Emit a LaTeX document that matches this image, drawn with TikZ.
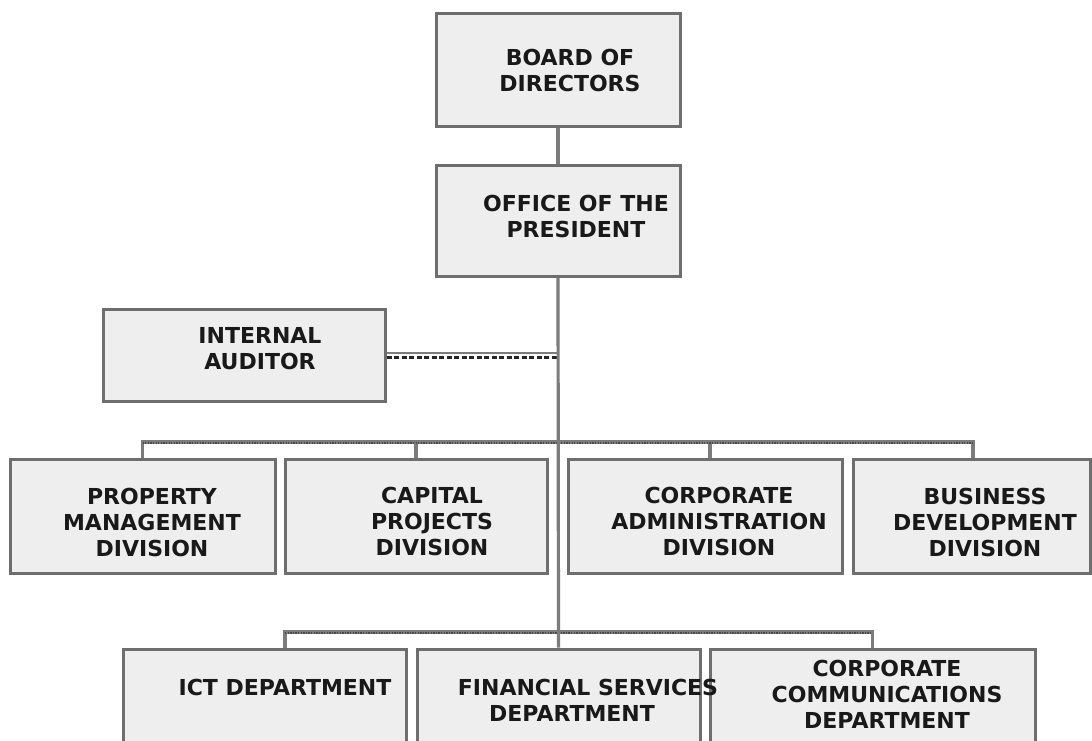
\documentclass[tikz,border=0pt]{standalone}
\usepackage{fontspec}
\setmainfont{DejaVu Sans}
\usetikzlibrary{calc}
\definecolor{boxfill}{HTML}{EEEEEE}
\definecolor{boxline}{HTML}{6E6E6E}
\definecolor{connline}{HTML}{7C7C7C}
\definecolor{dotline}{HTML}{4A4A4A}
\tikzset{
  orgbox/.style={draw=boxline, fill=boxfill, line width=3pt, rectangle, inner sep=0pt},
  orgtext/.style={anchor=base, align=center, inner sep=0pt, font=\fontsize{22}{26}\selectfont\bfseries, text=black!90},
  conn/.style={draw=connline, line width=3.2pt},
  busdots/.style={draw=dotline, line width=1.6pt, dash pattern=on 1.3pt off 1.3pt},
  audline/.style={draw=connline, line width=2pt},
  auddash/.style={draw=black!85, line width=2.2pt, dash pattern=on 5pt off 2.5pt}
}
\begin{document}
\begin{tikzpicture}[x=1pt,y=-1pt]
\useasboundingbox (0,0) rectangle (1092,740);
\clip (0,0) rectangle (1092,740);
\fill[white] (0,0) rectangle (1092,740);

% boxes
\node[orgbox, minimum width=244pt, minimum height=113pt] (board) at (558,69.5) {};
\node[orgbox, minimum width=244pt, minimum height=111pt] (office) at (558,220.5) {};
\node[orgbox, minimum width=282pt, minimum height=92pt] (aud) at (244,355) {};
\node[orgbox, minimum width=265pt, minimum height=114pt] (prop) at (142.5,516) {};
\node[orgbox, minimum width=262pt, minimum height=114pt] (cap) at (416,516) {};
\node[orgbox, minimum width=274pt, minimum height=114pt] (adm) at (705,516) {};
\node[orgbox, minimum width=237pt, minimum height=114pt] (dev) at (971.5,516) {};
\node[orgbox, minimum width=283pt, minimum height=111pt] (ict) at (264.5,704.5) {};
\node[orgbox, minimum width=283pt, minimum height=111pt] (fin) at (558.5,704.5) {};
\node[orgbox, minimum width=325pt, minimum height=111pt] (com) at (872.5,704.5) {};

% coordinates
\coordinate (audj) at (558,355);
\coordinate (bus2) at (558,442);
\coordinate (bus3) at (558,632);
\coordinate (admtop) at ($(adm.north)+(5,0)$);
\coordinate (devtop) at ($(dev.north)+(1.5,0)$);
\coordinate (icttop) at ($(ict.north)+(20.5,0)$);

% internal auditor link
\draw[audline] ([yshift=2pt]aud.east) -- ([yshift=2pt]audj);
\draw[auddash] ([yshift=-2.5pt]aud.east) -- ([yshift=-2.5pt]audj);

% division bus
\draw[conn] (prop.north) |- (bus2) -| (devtop);
\draw[conn] (cap.north) -- (cap.north |- bus2);
\draw[conn] (admtop) -- (admtop |- bus2);
\draw[busdots] ([yshift=-1.2pt]prop.north |- bus2) -- ([yshift=-1.2pt]devtop |- bus2);

% department bus
\draw[conn] (icttop) |- (bus3) -| (com.north);
\draw[busdots] ([yshift=-1.2pt]icttop |- bus3) -- ([yshift=-1.2pt]com.north |- bus3);

% main trunk
\draw[conn] (board.south) -- (office.north);
\draw[conn] (office.south) -- (fin.north);

% texts (anchored at the baseline of the last line)
\node[orgtext] (boardT) at (570,91) {BOARD OF\\DIRECTORS};
\node[orgtext] (officeT) at (576,237) {OFFICE OF THE\\PRESIDENT};
\node[orgtext] (audT) at (260,369) {INTERNAL\\AUDITOR};
\node[orgtext] (propT) at (152,556) {PROPERTY\\MANAGEMENT\\DIVISION};
\node[orgtext] (capT) at (432,555) {CAPITAL\\PROJECTS\\DIVISION};
\node[orgtext] (admT) at (719,555) {CORPORATE\\ADMINISTRATION\\DIVISION};
\node[orgtext] (devT) at (985,556) {BUSINESS\\DEVELOPMENT\\DIVISION};
\node[orgtext] (ictT) at (285,695) {ICT DEPARTMENT};
\node[orgtext] (finT) at (588,721) {FINANCIAL SERVICES\\\hspace*{-32pt}DEPARTMENT};
\node[orgtext] (comT) at (887,728) {CORPORATE\\COMMUNICATIONS\\DEPARTMENT};
\end{tikzpicture}
\end{document}
